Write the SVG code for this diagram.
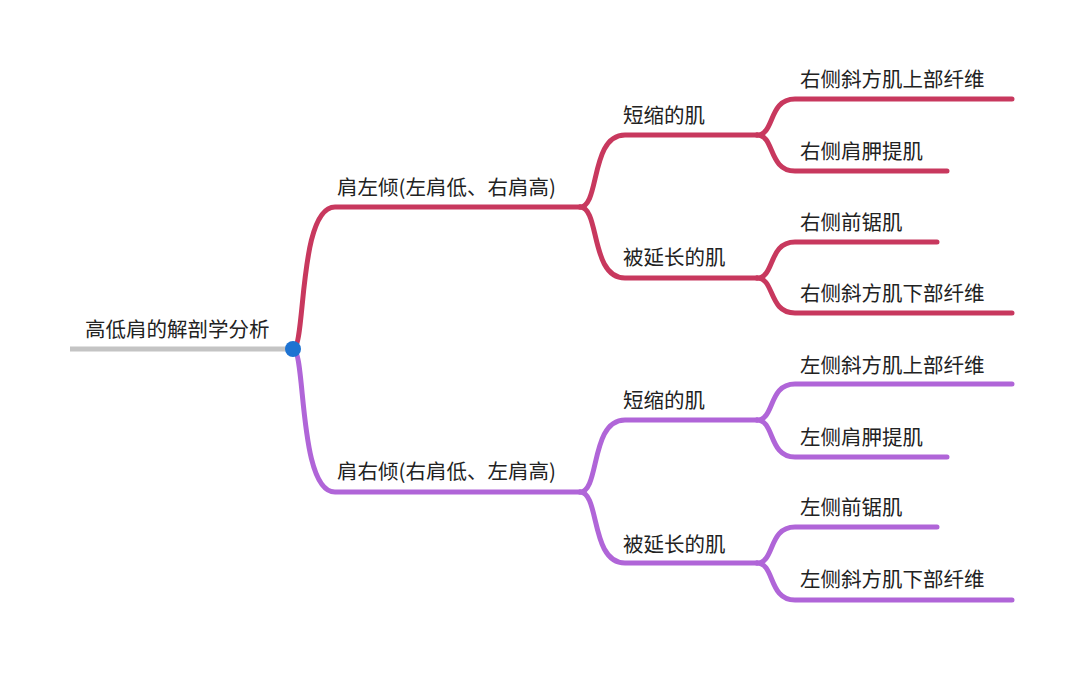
<svg xmlns="http://www.w3.org/2000/svg" width="1080" height="699" viewBox="0 0 1080 699">
<style>
text{font-family:"Noto Sans CJK SC","Noto Sans",sans-serif;font-size:20.5px;fill:#222}
.r{fill:none;stroke:#c8385e;stroke-width:5;stroke-linecap:round}
.p{fill:none;stroke:#b065d8;stroke-width:5;stroke-linecap:round}
</style>
<rect width="1080" height="699" fill="#fff"/>
<g id="connectors">
<path d="M70,349 L293,349" fill="none" stroke="#c4c4c4" stroke-width="5"/>
<path class="r" d="M293,349 C306,349 298,207 335,207 L580,207"/>
<path class="r" d="M580,207 C600,207 590,135 625,135 L757,135"/>
<path class="r" d="M580,207 C600,207 590,278 625,278 L757,278"/>
<path class="r" d="M757,135 C775,135 768,99 795,99 L1012,99"/>
<path class="r" d="M757,135 C775,135 768,171 795,171 L947,171"/>
<path class="r" d="M757,278 C775,278 768,242 795,242 L937,242"/>
<path class="r" d="M757,278 C775,278 768,313 795,313 L1012,313"/>
<path class="p" d="M293,349 C306,349 298,492 335,492 L580,492"/>
<path class="p" d="M580,492 C600,492 590,420 625,420 L757,420"/>
<path class="p" d="M580,492 C600,492 590,563 625,563 L757,563"/>
<path class="p" d="M757,420 C775,420 768,384 795,384 L1012,384"/>
<path class="p" d="M757,420 C775,420 768,457 795,457 L947,457"/>
<path class="p" d="M757,563 C775,563 768,527 795,527 L937,527"/>
<path class="p" d="M757,563 C775,563 768,600 795,600 L1012,600"/>
</g>
<g id="root"><text x="85" y="337">高低肩的解剖学分析</text><circle cx="293" cy="349" r="8" fill="#1e73d2"/></g>
<g id="n1"><text x="337" y="195">肩左倾(左肩低、右肩高)</text></g>
<g id="n2"><text x="623" y="123">短缩的肌</text></g>
<g id="n3"><text x="623" y="265">被延长的肌</text></g>
<g id="n4"><text x="800" y="87">右侧斜方肌上部纤维</text></g>
<g id="n5"><text x="800" y="159">右侧肩胛提肌</text></g>
<g id="n6"><text x="800" y="230">右侧前锯肌</text></g>
<g id="n7"><text x="800" y="301">右侧斜方肌下部纤维</text></g>
<g id="n8"><text x="337" y="479">肩右倾(右肩低、左肩高)</text></g>
<g id="n9"><text x="623" y="408">短缩的肌</text></g>
<g id="n10"><text x="623" y="552">被延长的肌</text></g>
<g id="n11"><text x="800" y="373">左侧斜方肌上部纤维</text></g>
<g id="n12"><text x="800" y="445">左侧肩胛提肌</text></g>
<g id="n13"><text x="800" y="515">左侧前锯肌</text></g>
<g id="n14"><text x="800" y="587">左侧斜方肌下部纤维</text></g>
</svg>
